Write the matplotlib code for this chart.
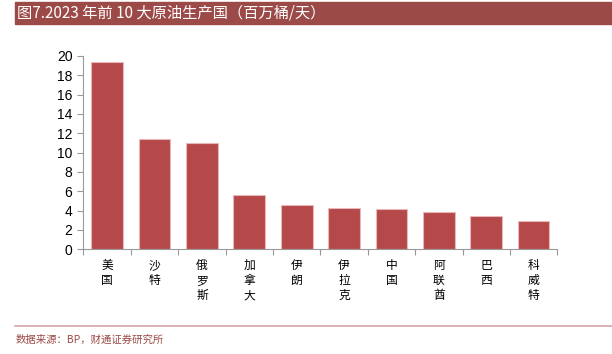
import matplotlib
matplotlib.use("Agg")
import matplotlib.pyplot as plt
import numpy as np

plt.rcParams['font.family'] = ['Noto Sans CJK SC', 'DejaVu Sans']

categories = ["美国", "沙特", "俄罗斯", "加拿大", "伊朗", "伊拉克", "中国", "阿联酋", "巴西", "科威特"]
values = [19.35, 11.37, 11.02, 5.58, 4.58, 4.3, 4.12, 3.85, 3.43, 2.88]
yticks = [0, 2, 4, 6, 8, 10, 12, 14, 16, 18, 20]
title = "图7.2023 年前 10 大原油生产国（百万桶/天）"
source = "数据来源：BP，财通证券研究所"

W, H = 612, 354
fig = plt.figure(figsize=(W / 100, H / 100), dpi=100)

# title bar
fig.patches.append(plt.Rectangle((15 / W, 1 - 24 / H), 1 - 15 / W, 22 / H,
                                 transform=fig.transFigure, color="#9c4a47", zorder=0))
fig.text(17 / W, 1 - 13 / H, title, color="white", fontsize=11, va="center", ha="left")

# axes
ax = fig.add_axes([83.5 / W, 1 - 249.3 / H, (557.3 - 83.5) / W, (249.3 - 55.8) / H])
x = np.arange(len(categories))
ax.bar(x, values, width=0.67, color="#b5494a", edgecolor="#e8b8b8", linewidth=0.8, zorder=2)
ax.set_xlim(-0.5, len(categories) - 0.5)
ax.set_ylim(0, 20)
ax.set_yticks(yticks)
ax.set_yticklabels([str(t) for t in yticks], fontfamily="Liberation Sans", fontsize=10)
for s in ["top", "right"]:
    ax.spines[s].set_visible(False)
for s in ["left", "bottom"]:
    ax.spines[s].set_color("#999999")
    ax.spines[s].set_linewidth(0.8)
ax.tick_params(axis="y", length=4, width=0.8, color="#999999", pad=4)
ax.set_xticks(np.arange(len(categories) + 1) - 0.5, minor=False)
ax.set_xticklabels([])
ax.tick_params(axis="x", length=4, width=0.8, color="#999999")
for i, c in enumerate(categories):
    ax.text(i, -1.0, "\n".join(c), ha="center", va="top", fontsize=8.5,
            linespacing=1.2, transform=ax.transData)

# source line and text
fig.add_artist(plt.Line2D([15 / W, 1], [1 - 326 / H, 1 - 326 / H], transform=fig.transFigure,
                          color="#d6a6a4", linewidth=1.2))
fig.text(16 / W, 1 - 340 / H, source, color="#9c4a47", fontsize=7.5, va="center", ha="left")

fig.savefig("out.png", dpi=100)
